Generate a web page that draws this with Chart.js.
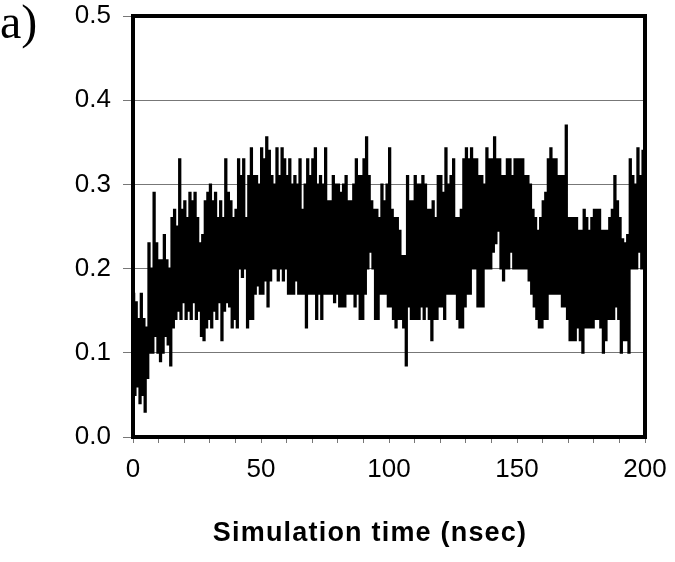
<!DOCTYPE html>
<html>
<head>
<meta charset="utf-8">
<script src="https://cdn.jsdelivr.net/npm/chart.js@4.4.1/dist/chart.umd.min.js"></script>
<style>
  body { margin: 0; background: #fff; }
  #wrap { width: 675px; height: 562px; }
</style>
</head>
<body>
<div id="wrap"><canvas id="chart" width="675" height="562"></canvas></div>
<script>
// upper and lower values of the trace for each nanosecond
const hiValues = [
  0.17, 0.16, 0.14, 0.17, 0.14, 0.13, 0.23, 0.20, 0.29, 0.23,
  0.21, 0.21, 0.24, 0.21, 0.20, 0.26, 0.27, 0.25, 0.33, 0.27,
  0.28, 0.26, 0.29, 0.28, 0.29, 0.26, 0.23, 0.24, 0.28, 0.29,
  0.30, 0.28, 0.29, 0.26, 0.28, 0.26, 0.33, 0.29, 0.28, 0.26,
  0.27, 0.33, 0.31, 0.33, 0.26, 0.31, 0.343, 0.31, 0.31, 0.30,
  0.343, 0.33, 0.356, 0.34, 0.31, 0.30, 0.343, 0.31, 0.343, 0.33,
  0.31, 0.33, 0.30, 0.31, 0.30, 0.33, 0.27, 0.30, 0.33, 0.31,
  0.33, 0.343, 0.30, 0.31, 0.30, 0.343, 0.28, 0.28, 0.31, 0.30,
  0.30, 0.29, 0.30, 0.31, 0.28, 0.28, 0.30, 0.33, 0.31, 0.31,
  0.33, 0.356, 0.31, 0.28, 0.27, 0.27, 0.26, 0.30, 0.28, 0.30,
  0.343, 0.27, 0.26, 0.26, 0.245, 0.215, 0.215, 0.31, 0.28, 0.28,
  0.31, 0.30, 0.30, 0.31, 0.30, 0.27, 0.27, 0.28, 0.26, 0.31,
  0.31, 0.29, 0.343, 0.30, 0.31, 0.33, 0.26, 0.26, 0.27, 0.33,
  0.343, 0.33, 0.343, 0.33, 0.33, 0.31, 0.31, 0.30, 0.343, 0.33,
  0.33, 0.356, 0.33, 0.33, 0.31, 0.31, 0.33, 0.33, 0.31, 0.33,
  0.33, 0.33, 0.33, 0.31, 0.31, 0.30, 0.27, 0.26, 0.245, 0.26,
  0.28, 0.29, 0.33, 0.343, 0.33, 0.33, 0.31, 0.31, 0.31, 0.37,
  0.26, 0.26, 0.26, 0.26, 0.245, 0.245, 0.27, 0.26, 0.245, 0.26,
  0.27, 0.27, 0.27, 0.245, 0.245, 0.245, 0.26, 0.27, 0.31, 0.28,
  0.26, 0.235, 0.23, 0.24, 0.33, 0.31, 0.30, 0.343, 0.31, 0.34
];
const loValues = [
  0.05, 0.06, 0.04, 0.05, 0.03, 0.07, 0.10, 0.10, 0.12, 0.10,
  0.09, 0.10, 0.12, 0.11, 0.085, 0.13, 0.14, 0.15, 0.14, 0.16,
  0.14, 0.15, 0.14, 0.16, 0.14, 0.15, 0.12, 0.115, 0.13, 0.14,
  0.13, 0.15, 0.14, 0.16, 0.115, 0.15, 0.16, 0.155, 0.13, 0.14,
  0.13, 0.20, 0.19, 0.20, 0.13, 0.14, 0.14, 0.17, 0.18, 0.17,
  0.17, 0.186, 0.155, 0.186, 0.20, 0.20, 0.186, 0.20, 0.186, 0.20,
  0.17, 0.17, 0.17, 0.186, 0.17, 0.17, 0.17, 0.13, 0.17, 0.17,
  0.17, 0.14, 0.17, 0.14, 0.17, 0.17, 0.17, 0.17, 0.16, 0.17,
  0.155, 0.155, 0.155, 0.17, 0.17, 0.17, 0.155, 0.17, 0.14, 0.14,
  0.17, 0.20, 0.22, 0.20, 0.14, 0.14, 0.17, 0.17, 0.17, 0.155,
  0.155, 0.14, 0.13, 0.14, 0.14, 0.13, 0.085, 0.155, 0.14, 0.14,
  0.14, 0.14, 0.155, 0.14, 0.155, 0.14, 0.115, 0.14, 0.14, 0.155,
  0.155, 0.14, 0.17, 0.17, 0.17, 0.17, 0.14, 0.13, 0.13, 0.155,
  0.17, 0.17, 0.20, 0.20, 0.155, 0.155, 0.155, 0.20, 0.20, 0.20,
  0.22, 0.23, 0.245, 0.20, 0.186, 0.20, 0.20, 0.22, 0.20, 0.20,
  0.20, 0.20, 0.20, 0.20, 0.186, 0.17, 0.155, 0.14, 0.13, 0.13,
  0.14, 0.14, 0.17, 0.17, 0.17, 0.17, 0.17, 0.155, 0.155, 0.14,
  0.115, 0.115, 0.115, 0.13, 0.115, 0.10, 0.13, 0.13, 0.13, 0.13,
  0.14, 0.14, 0.13, 0.10, 0.115, 0.14, 0.14, 0.14, 0.155, 0.14,
  0.10, 0.115, 0.115, 0.10, 0.20, 0.20, 0.20, 0.22, 0.20, 0.23
];
const yTicks = [0, 0.1, 0.2, 0.3, 0.4, 0.5];
const xLabelTicks = [0, 50, 100, 150, 200];
const xTitle = 'Simulation time (nsec)';
const panelLabel = 'a)';

// high value at t, low value at t + 0.5
const tracePoints = [];
hiValues.forEach((hi, i) => {
  tracePoints.push({ x: i, y: hi });
  tracePoints.push({ x: i + 0.5, y: loValues[i] });
});

const framePlugin = {
  id: 'frame',
  afterDatasetsDraw(chart) {
    const { ctx, chartArea: a } = chart;
    ctx.save();
    ctx.lineWidth = 4;
    ctx.strokeStyle = '#000';
    ctx.strokeRect(a.left, a.top, a.right - a.left, a.bottom - a.top);
    ctx.restore();
  },
  afterDraw(chart) {
    const ctx = chart.ctx;
    ctx.save();
    ctx.fillStyle = '#000';
    ctx.textBaseline = 'alphabetic';
    ctx.font = '48px "Liberation Serif"';
    ctx.textAlign = 'left';
    ctx.fillText(panelLabel, 0, 38);
    ctx.font = 'bold 27px "Liberation Sans"';
    ctx.letterSpacing = '1.2px';
    ctx.textAlign = 'center';
    ctx.fillText(xTitle, 370, 541);
    ctx.restore();
  }
};

new Chart(document.getElementById('chart'), {
  type: 'line',
  data: {
    datasets: [{
      data: tracePoints,
      borderColor: '#000',
      borderWidth: 2,
      pointRadius: 0,
      stepped: true,
      tension: 0
    }]
  },
  options: {
    responsive: false,
    animation: false,
    events: [],
    layout: { padding: { top: 16, right: 30, left: 0, bottom: 0 } },
    plugins: { legend: { display: false }, tooltip: { enabled: false } },
    scales: {
      x: {
        type: 'linear',
        min: 0,
        max: 200,
        border: { display: false },
        grid: { drawOnChartArea: false, color: '#777', tickLength: 6 },
        ticks: {
          stepSize: 10,
          autoSkip: false,
          maxRotation: 0,
          padding: 11,
          color: '#000',
          font: { family: 'Liberation Sans', size: 26 },
          callback: (v) => xLabelTicks.includes(v) ? String(v) : ''
        },
        afterFit: (s) => { s.height = 125; s.paddingLeft = 0; s.paddingRight = 0; }
      },
      y: {
        min: 0,
        max: 0.5,
        border: { display: false },
        grid: { color: '#777', lineWidth: 1, tickLength: 10 },
        ticks: {
          stepSize: 0.1,
          padding: 12,
          color: '#000',
          font: { family: 'Liberation Sans', size: 26 },
          callback: (v) => yTicks.some(t => Math.abs(t - v) < 1e-9) ? v.toFixed(1) : ''
        },
        afterFit: (s) => { s.width = 133; s.paddingTop = 0; s.paddingBottom = 0; }
      }
    }
  },
  plugins: [framePlugin]
});
</script>
</body>
</html>
